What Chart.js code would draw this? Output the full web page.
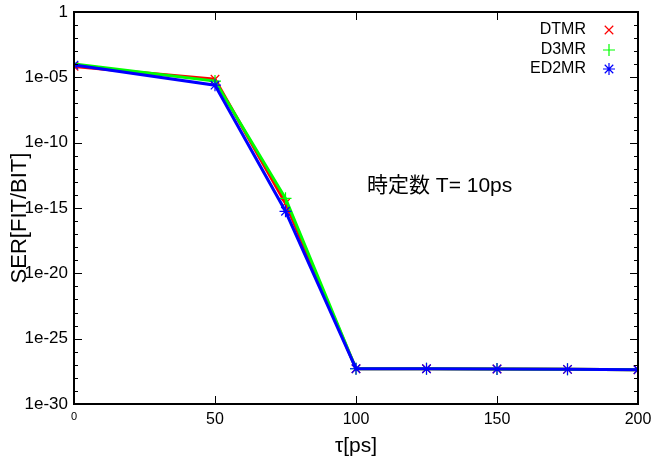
<!DOCTYPE html>
<html>
<head>
<meta charset="utf-8">
<script src="https://cdn.jsdelivr.net/npm/chart.js@4"></script>
<style>
    body { margin: 0; background: #fff; }
    #wrap { width: 654px; height: 470px; }
</style>
</head>
<body>
<div id="wrap"><canvas id="serChart"></canvas></div>
<script>
const FONT = "'Liberation Sans', Arial, 'Noto Sans CJK JP', sans-serif"

// tau [ps]
const tau = [0, 50, 75, 100, 125, 150, 175, 200]
// SER [FIT/BIT]
const dtmr = [6.8e-5, 7.1e-6, 2.3e-15, 5.0e-28, 5.0e-28, 4.8e-28, 4.5e-28, 4.2e-28]
const d3mr = [1.05e-4, 5.2e-6, 5.5e-15, 5.0e-28, 5.0e-28, 4.8e-28, 4.5e-28, 4.2e-28]
const ed2mr = [8.7e-5, 2.5e-6, 5.6e-16, 5.0e-28, 5.0e-28, 4.8e-28, 4.5e-28, 4.2e-28]

const seriesNames = ['DTMR', 'D3MR', 'ED2MR']
const seriesColors = ['#ff0000', '#00ff00', '#0000ff']
const seriesPoints = ['crossRot', 'cross', 'star']
const seriesWidths = [3, 3, 3]

const xTicks = [0, 50, 100, 150, 200]
const yDecades = [-30, -29, -28, -27, -26, -25, -24, -23, -22, -21, -20, -19, -18, -17, -16, -15,
    -14, -13, -12, -11, -10, -9, -8, -7, -6, -5, -4, -3, -2, -1, 0]
const yTickLabels = { '-30': '1e-30', '-25': '1e-25', '-20': '1e-20', '-15': '1e-15', '-10': '1e-10', '-5': '1e-05', '0': '1' }

const note = '時定数 T= 10ps'
const xTitle = 'τ[ps]'
const yTitle = 'SER[FIT/BIT]'

const makeSet = function (i, values) {
    return {
        label: seriesNames[i],
        data: tau.map((t, k) => ({ x: t, y: values[k] })),
        borderColor: seriesColors[i],
        backgroundColor: seriesColors[i],
        borderWidth: seriesWidths[i],
        pointStyle: seriesPoints[i],
        pointRadius: 6,
        pointBorderWidth: 1.2,
        pointHoverRadius: 6,
        tension: 0,
        // later series on top, like gnuplot
        order: seriesNames.length - i
    }
}

// frame, inward tick marks, titles, note and legend
const decor = {
    id: 'decor',
    afterDraw(chart) {
        const ctx = chart.ctx
        const a = chart.chartArea
        const xs = chart.scales.x
        const ys = chart.scales.y
        ctx.save()
        ctx.strokeStyle = '#000'
        ctx.lineWidth = 1
        yDecades.forEach(d => {
            const y = Math.round(ys.getPixelForValue(Math.pow(10, d))) + 0.5
            const len = d % 5 === 0 ? 8 : 4
            ctx.beginPath()
            ctx.moveTo(a.left, y); ctx.lineTo(a.left + len, y)
            ctx.moveTo(a.right, y); ctx.lineTo(a.right - len, y)
            ctx.stroke()
        })
        xTicks.forEach(v => {
            const x = Math.round(xs.getPixelForValue(v)) + 0.5
            ctx.beginPath()
            ctx.moveTo(x, a.bottom); ctx.lineTo(x, a.bottom - 8)
            ctx.moveTo(x, a.top); ctx.lineTo(x, a.top + 8)
            ctx.stroke()
        })
        ctx.lineWidth = 2
        ctx.strokeRect(a.left, a.top, a.right - a.left, a.bottom - a.top)

        ctx.fillStyle = '#000'
        ctx.textAlign = 'center'
        ctx.textBaseline = 'middle'
        ctx.font = '21px ' + FONT
        ctx.fillText(xTitle, (a.left + a.right) / 2, 446)

        ctx.save()
        ctx.translate(20, 218)
        ctx.rotate(-Math.PI / 2)
        ctx.font = '22px ' + FONT
        ctx.fillText(yTitle, 0, 0)
        ctx.restore()

        ctx.textAlign = 'left'
        ctx.textBaseline = 'alphabetic'
        ctx.font = '21px ' + FONT
        ctx.fillText(note, 367, 192)

        // legend: name right aligned, marker to its right
        ctx.font = '16px ' + FONT
        ctx.textAlign = 'right'
        ctx.textBaseline = 'middle'
        const rowY = [30, 50, 69]
        seriesNames.forEach((name, i) => {
            ctx.fillStyle = '#000'
            ctx.fillText(name, 586, rowY[i])
            ctx.strokeStyle = seriesColors[i]
            ctx.fillStyle = seriesColors[i]
            ctx.lineWidth = 1.2
            Chart.helpers.drawPoint(ctx, { pointStyle: seriesPoints[i], radius: 6, rotation: 0, borderWidth: 1.2 }, 609, rowY[i])
        })
        ctx.restore()
    }
}

const config = {
    type: 'line',
    data: {
        datasets: [makeSet(0, dtmr), makeSet(1, d3mr), makeSet(2, ed2mr)]
    },
    options: {
        responsive: true,
        maintainAspectRatio: false,
        animation: false,
        layout: { padding: { top: 12, right: 16, left: 0, bottom: 0 } },
        plugins: {
            legend: { display: false },
            tooltip: { enabled: false }
        },
        scales: {
            x: {
                type: 'linear',
                min: 0,
                max: 200,
                grid: { display: false, drawTicks: false },
                border: { display: false },
                afterBuildTicks: s => { s.ticks = xTicks.map(v => ({ value: v })) },
                afterFit: s => { s.height = 66; s.paddingLeft = 0; s.paddingRight = 0 },
                ticks: {
                    padding: 6,
                    maxRotation: 0,
                    color: '#000',
                    font: c => ({ family: FONT, size: c.tick && c.tick.value === 0 ? 11 : 16 }),
                    callback: v => String(v)
                }
            },
            y: {
                type: 'logarithmic',
                min: 1e-30,
                max: 1,
                grid: { display: false, drawTicks: false },
                border: { display: false },
                afterBuildTicks: s => { s.ticks = yDecades.map(d => ({ value: Math.pow(10, d) })) },
                afterFit: s => { s.width = 74; s.paddingTop = 0; s.paddingBottom = 0 },
                ticks: {
                    padding: 6,
                    color: '#000',
                    autoSkip: false,
                    font: { family: FONT, size: 17 },
                    callback: v => {
                        const d = Math.round(Math.log10(v))
                        return yTickLabels[d] || ''
                    }
                }
            }
        }
    },
    plugins: [decor]
}

const serChart = new Chart(document.getElementById('serChart'), config)
</script>
</body>
</html>
